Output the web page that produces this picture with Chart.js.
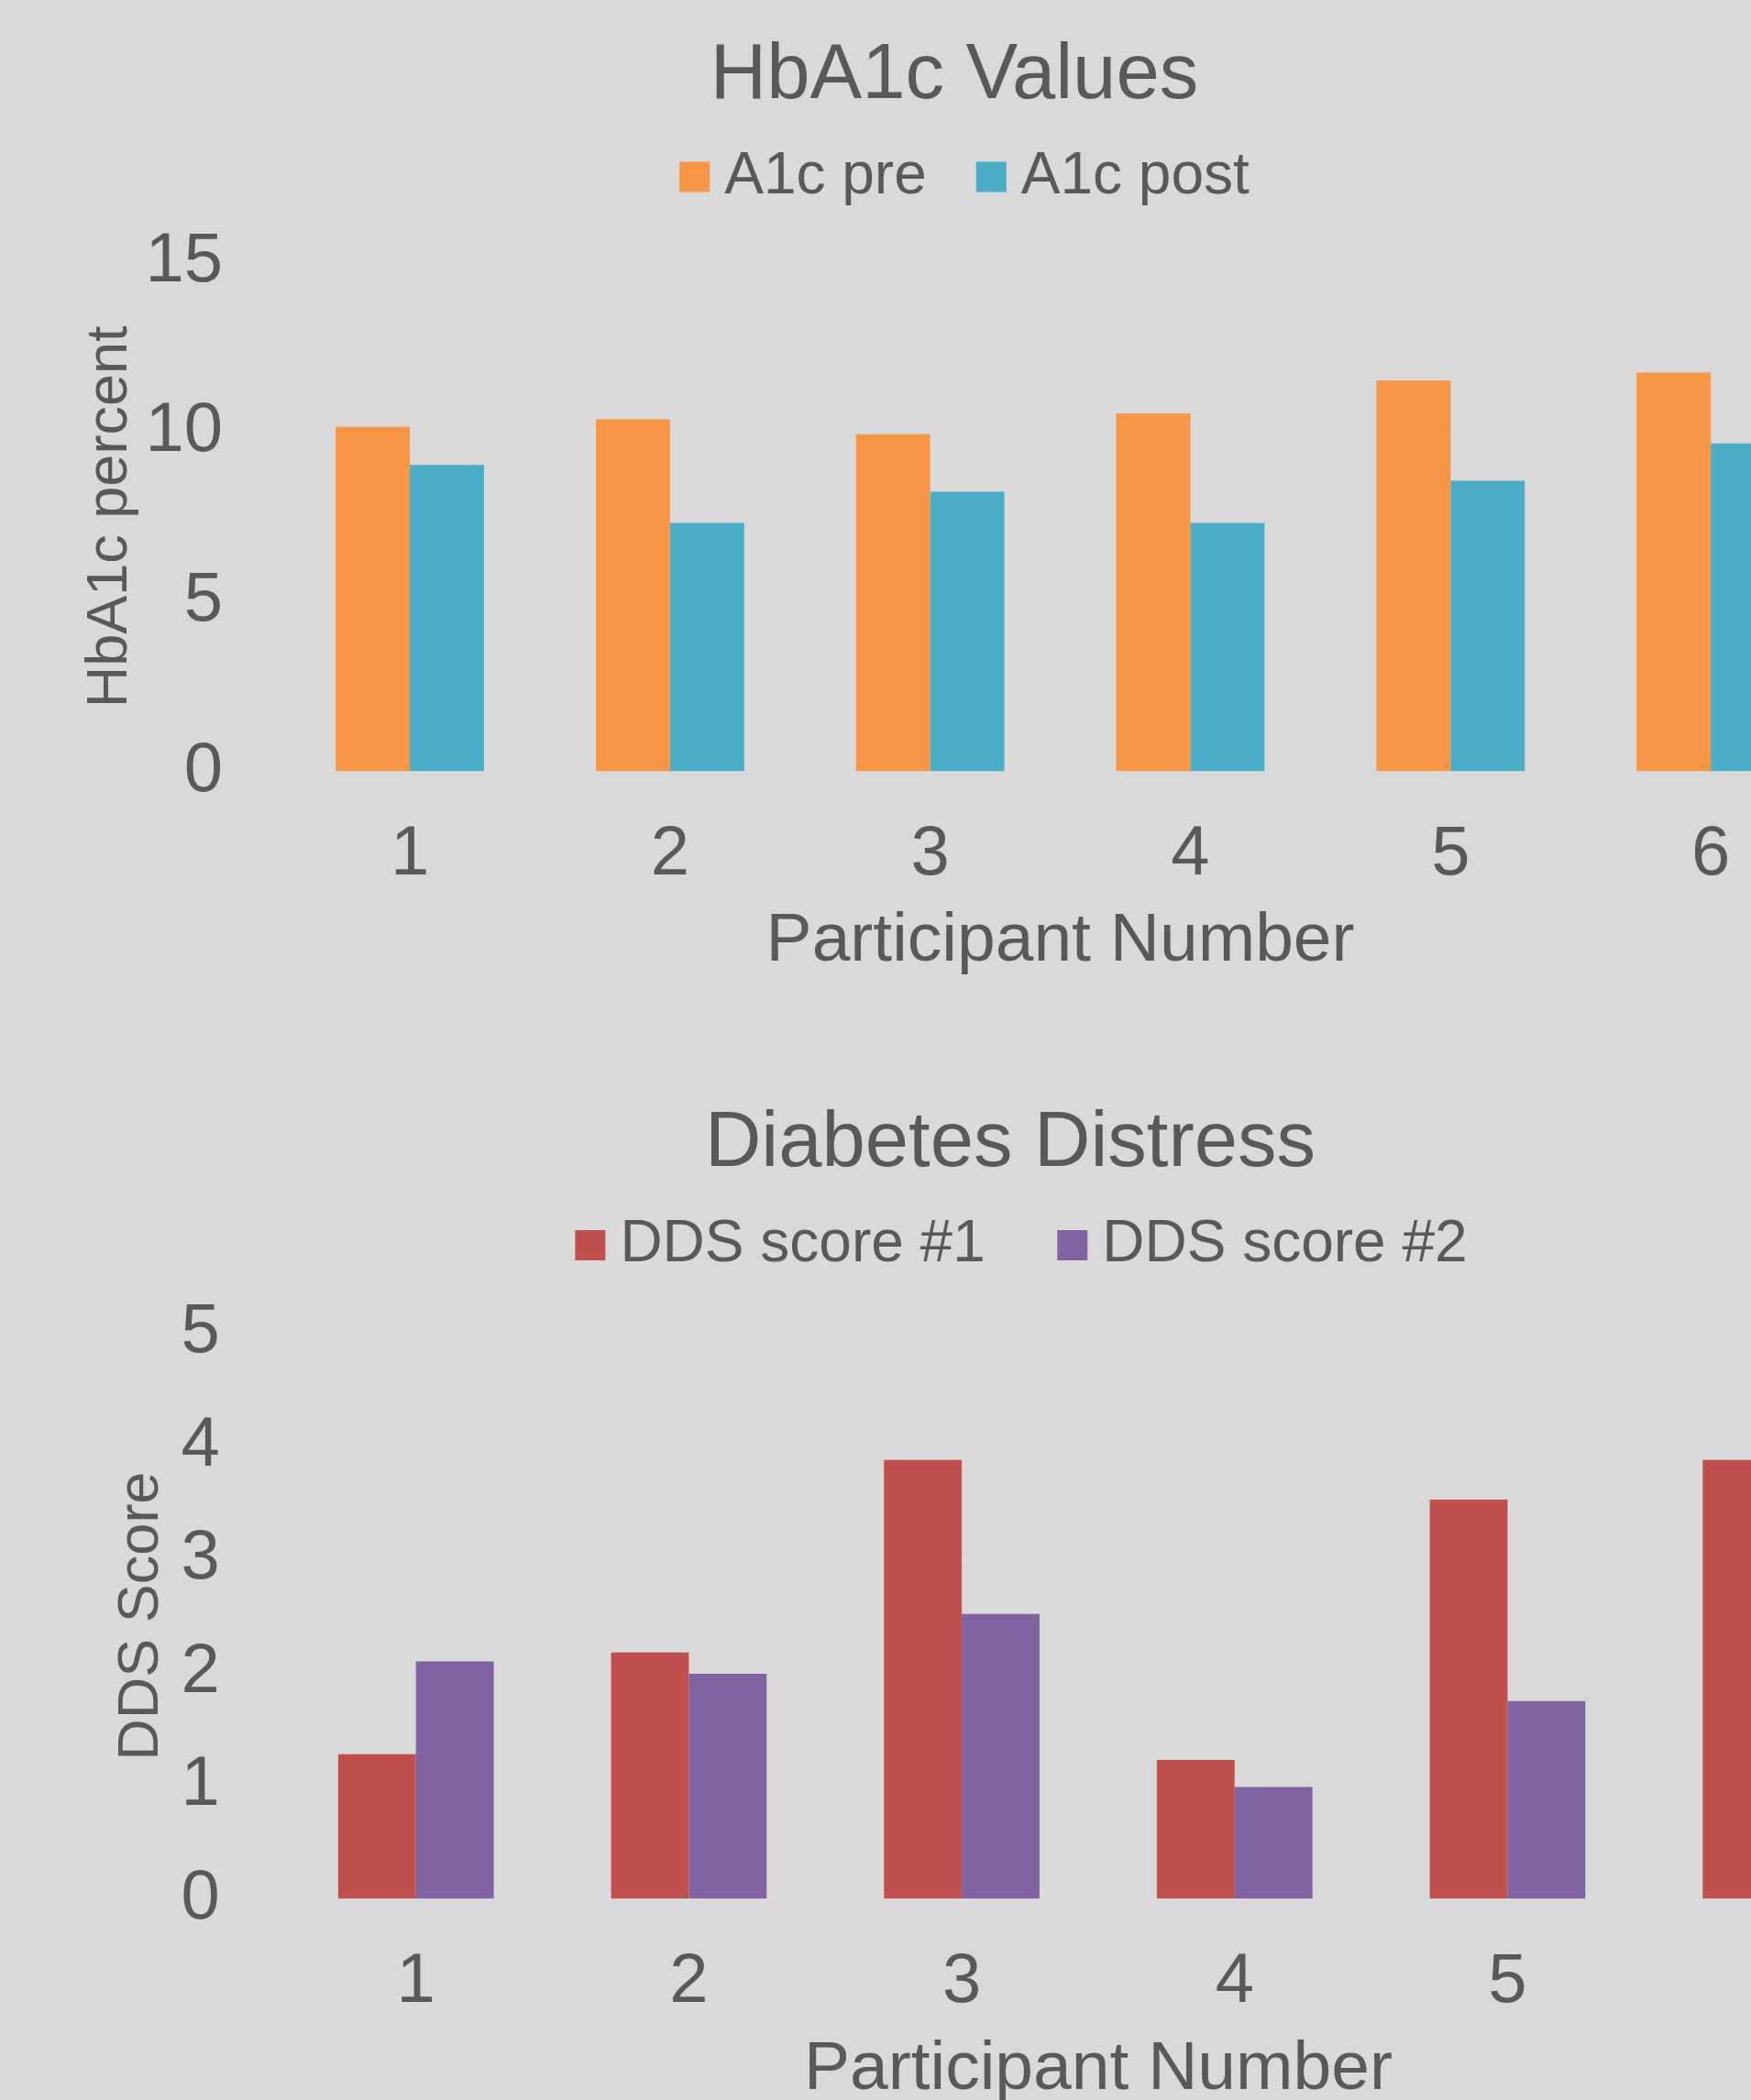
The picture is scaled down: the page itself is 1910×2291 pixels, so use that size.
<!DOCTYPE html>
<html>
<head>
<meta charset="utf-8">
<title>HbA1c Values and Diabetes Distress</title>
<script src="https://cdn.jsdelivr.net/npm/chart.js@4"></script>
<style>
  html, body {
    margin: 0;
    padding: 0;
    width: 1910px;
    height: 2291px;
    overflow: hidden;
    background: #d9d9d9;
  }
  canvas { position: absolute; left: 0; }
  #a1cChart { top: 0; }
  #ddsChart { top: 1167px; }
</style>
</head>
<body>
<canvas id="a1cChart" width="2082" height="1100"></canvas>
<canvas id="ddsChart" width="2204" height="1170"></canvas>
<script>
// Data
const participants = ['1', '2', '3', '4', '5', '6'];

const a1cPre = [10.15, 10.37, 9.93, 10.55, 11.52, 11.75];
const a1cPost = [9.03, 7.32, 8.24, 7.32, 8.56, 9.66];

const ddsScore1 = [1.28, 2.18, 3.88, 1.23, 3.53, 3.88];
// last value of score #2 falls outside the cropped picture, estimated
const ddsScore2 = [2.10, 1.99, 2.52, 0.99, 1.75, 2.0];

const a1cTicks = [0, 5, 10, 15];
const ddsTicks = [0, 1, 2, 3, 4, 5];

Chart.defaults.font.family = "'Liberation Sans', Arial, sans-serif";
Chart.defaults.color = '#595959';

// legend height is stretched so the plot starts lower, and title/legend
// get centred on the whole canvas instead of on the padded box
const layoutTweaks = {
  id: 'layoutTweaks',
  beforeLayout(chart, args, opts) {
    const lg = chart.legend;
    if (!lg || lg._patched) return;
    const fit = lg.fit;
    lg.fit = function () {
      fit.call(this);
      this.height = opts.legendHeight;
    };
    lg._patched = true;
  },
  afterLayout(chart, args, opts) {
    const t = chart.titleBlock;
    if (t) {
      t.left = 0;
      t.right = chart.width;
      t.width = chart.width;
    }
    const lg = chart.legend;
    if (lg) {
      lg.left = opts.legendLeft;
      lg.right = chart.width;
      lg.width = chart.width - opts.legendLeft;
    }
  }
};

function makeChart(id, cfg) {
  return new Chart(document.getElementById(id), {
    type: 'bar',
    data: {
      labels: participants,
      datasets: cfg.series.map(s => ({
        label: s.label,
        data: s.data,
        backgroundColor: s.color,
        borderWidth: 0,
        categoryPercentage: 0.57,
        barPercentage: 1.0
      }))
    },
    options: {
      responsive: false,
      animation: false,
      devicePixelRatio: 1,
      layout: { padding: { left: 0, top: 0, bottom: 0, right: cfg.rightPad } },
      plugins: {
        title: {
          display: true,
          text: cfg.title,
          font: { size: 85, weight: 'normal', lineHeight: 1.2 },
          color: '#595959',
          padding: cfg.titlePad
        },
        legend: {
          display: true,
          position: 'top',
          labels: {
            font: { size: 64 },
            color: '#595959',
            // square drawn as a point style so it sits close to its text
            usePointStyle: true,
            pointStyle: 'rect',
            boxWidth: 1,
            boxHeight: 33,
            padding: cfg.legendPad
          }
        },
        layoutTweaks: { legendHeight: cfg.legendHeight, legendLeft: cfg.legendLeft },
        tooltip: { enabled: false }
      },
      scales: {
        x: {
          grid: { display: false, drawTicks: false },
          border: { display: false },
          ticks: { font: { size: 76 }, color: '#595959', padding: 46 },
          title: {
            display: true,
            text: 'Participant Number',
            font: { size: 75, lineHeight: 1.2 },
            color: '#595959',
            padding: cfg.xTitlePad
          }
        },
        y: {
          min: 0,
          max: cfg.yMax,
          grid: { color: '#dbdbdb', lineWidth: 1, drawTicks: false },
          border: { display: false },
          afterBuildTicks: scale => {
            scale.ticks = cfg.yTicks.map(v => ({ value: v }));
          },
          ticks: { font: { size: 76 }, color: '#595959', padding: cfg.yTickPad },
          title: {
            display: true,
            text: cfg.yTitle,
            font: { size: 63, lineHeight: 1.2 },
            color: '#595959',
            padding: cfg.yTitlePad
          }
        }
      }
    },
    plugins: [layoutTweaks]
  });
}

makeChart('a1cChart', {
  title: 'HbA1c Values',
  yTitle: 'HbA1c percent',
  yMax: 15,
  yTicks: a1cTicks,
  rightPad: 74,
  titlePad: { top: 32.5, bottom: -43.5 },
  legendPad: 70,
  legendHeight: 195,
  legendLeft: 38,
  xTitlePad: { top: -43, bottom: 28 },
  yTickPad: 62,
  yTitlePad: { top: 83, bottom: -62 },
  series: [
    { label: 'A1c pre', data: a1cPre, color: '#f79646' },
    { label: 'A1c post', data: a1cPost, color: '#4bacc6' }
  ]
});

makeChart('ddsChart', {
  title: 'Diabetes Distress',
  yTitle: 'DDS Score',
  yMax: 5,
  yTicks: ddsTicks,
  rightPad: 113,
  titlePad: { top: 31, bottom: -68 },
  legendPad: 94.5,
  legendHeight: 222.5,
  legendLeft: 40,
  xTitlePad: { top: -42, bottom: 34 },
  yTickPad: 65,
  yTitlePad: { top: 117, bottom: -60 },
  series: [
    { label: 'DDS score #1', data: ddsScore1, color: '#c0504d' },
    { label: 'DDS score #2', data: ddsScore2, color: '#8064a2' }
  ]
});
</script>
</body>
</html>
